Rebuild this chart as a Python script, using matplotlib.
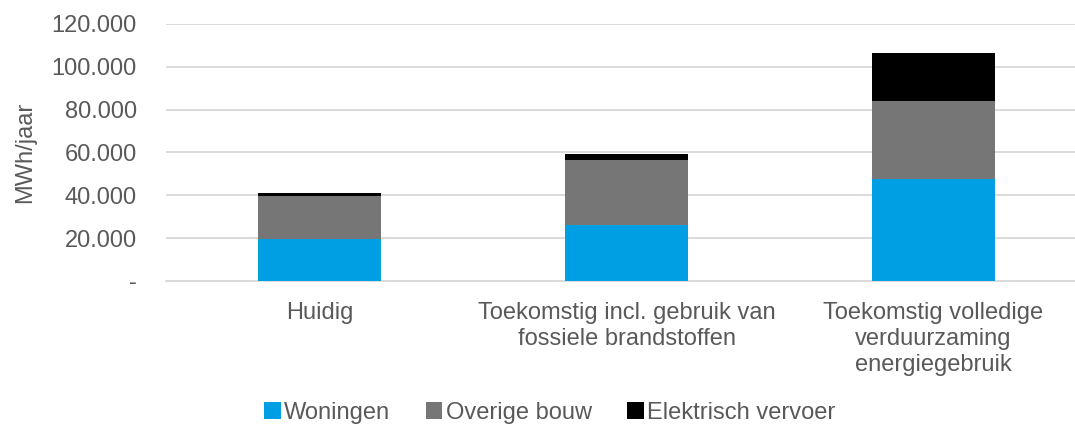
import matplotlib.pyplot as plt
from matplotlib.ticker import FuncFormatter

categories = ["Huidig",
              "Toekomstig incl. gebruik van\nfossiele brandstoffen",
              "Toekomstig volledige\nverduurzaming\nenergiegebruik"]
woningen = [19600, 26300, 47500]
overige_bouw = [20300, 30200, 36600]
elektrisch_vervoer = [1200, 2800, 22300]
y_ticks = [0, 20000, 40000, 60000, 80000, 100000, 120000]

plt.rcParams['font.family'] = ['Liberation Sans', 'DejaVu Sans']
text_color = "#595959"
fs = 17

fig = plt.figure(figsize=(10.75, 4.26), dpi=100)
ax = fig.add_axes([166 / 1075, 145 / 426, 921 / 1075, 257 / 426])

x = range(len(categories))
w = 0.4
ax.bar(x, woningen, w, color="#009FE3", label="Woningen", zorder=3)
bottom2 = woningen
ax.bar(x, overige_bouw, w, bottom=bottom2, color="#767676",
       label="Overige bouw", zorder=3)
bottom3 = [a + b for a, b in zip(woningen, overige_bouw)]
ax.bar(x, elektrisch_vervoer, w, bottom=bottom3, color="#000000",
       label="Elektrisch vervoer", zorder=3)

ax.set_xlim(-0.5, 2.5)
ax.set_ylim(0, 120000)
ax.set_yticks(y_ticks)
ax.yaxis.set_major_formatter(FuncFormatter(
    lambda v, p: "-" if v == 0 else f"{int(v):,}".replace(",", ".")))
ax.set_xticks(list(x))
ax.set_xticklabels(categories, fontsize=fs, color=text_color,
                   linespacing=1.25, va="top")
ax.tick_params(axis="x", length=0, pad=15)
ax.tick_params(axis="y", length=0, pad=21, labelsize=fs,
               labelcolor=text_color)

ax.grid(axis="y", color="#D9D9D9", linewidth=1.3, zorder=0)
for s in ["top", "right", "left"]:
    ax.spines[s].set_visible(False)
ax.spines["bottom"].set_color("#D9D9D9")
ax.spines["bottom"].set_linewidth(1.3)

ax.set_ylabel("MWh/jaar", fontsize=fs, color=text_color)
ax.yaxis.set_label_coords(-130 / 921, 0.5)

fig.legend(loc="center", bbox_to_anchor=(550 / 1075, 1 - 413 / 426),
           ncol=3, frameon=False, fontsize=fs, handlelength=0.7,
           handleheight=0.7, handletextpad=0.15, columnspacing=1.5,
           labelcolor=text_color)

fig.savefig("out.png", dpi=100)
